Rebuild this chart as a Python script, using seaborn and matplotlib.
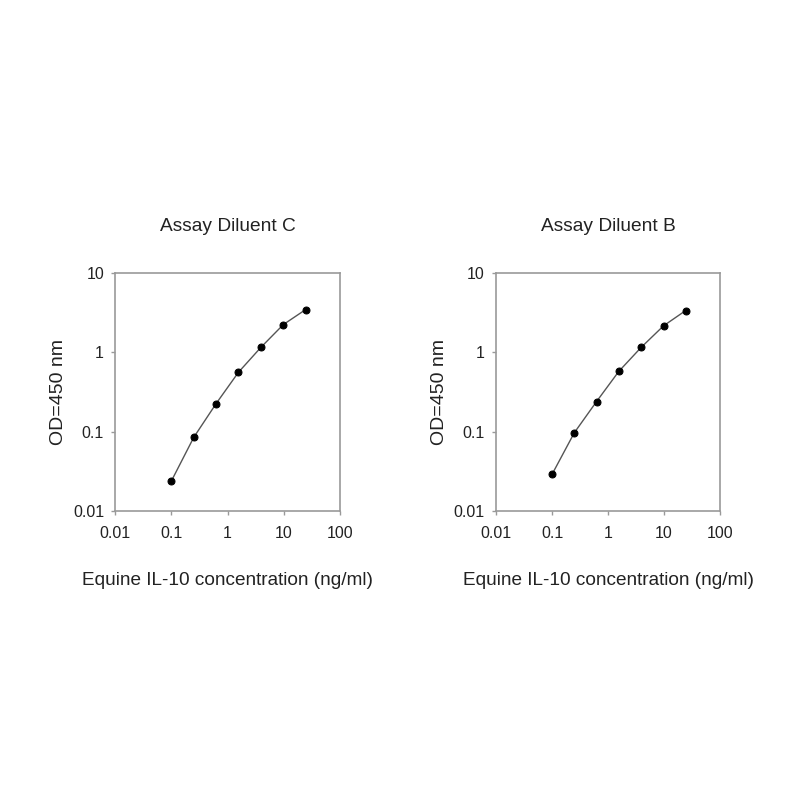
import matplotlib
matplotlib.use("Agg")
import matplotlib.pyplot as plt
import seaborn as sns
import pandas as pd
from matplotlib.ticker import FixedLocator, FixedFormatter, NullLocator

sns.set_theme(style="white")
plt.rcParams['font.family'] = ['Liberation Sans', 'DejaVu Sans']

conc = [0.1, 0.25, 0.625, 1.56, 3.9, 9.8, 24.4]
od_c = [0.024, 0.085, 0.226, 0.56, 1.15, 2.23, 3.44]
od_b = [0.029, 0.097, 0.24, 0.575, 1.15, 2.15, 3.35]
titles = ["Assay Diluent C", "Assay Diluent B"]
x_ticks = [0.01, 0.1, 1, 10, 100]
x_labels = ["0.01", "0.1", "1", "10", "100"]
y_ticks = [0.01, 0.1, 1, 10]
y_labels = ["0.01", "0.1", "1", "10"]
xlabel = "Equine IL-10 concentration (ng/ml)"
ylabel = "OD=450 nm"

fig = plt.figure(figsize=(8, 8), dpi=100)
positions = [[0.144, 0.361, 0.281, 0.298], [0.620, 0.361, 0.280, 0.298]]

for pos, title, od in zip(positions, titles, [od_c, od_b]):
    ax = fig.add_axes(pos)
    df = pd.DataFrame({"conc": conc, "od": od})
    sns.lineplot(data=df, x="conc", y="od", ax=ax, color="#555555", linewidth=1.0,
                 marker="o", markersize=5, markerfacecolor="black", markeredgecolor="black")
    ax.set_xscale("log")
    ax.set_yscale("log")
    ax.set_xlim(0.01, 100)
    ax.set_ylim(0.01, 10)
    ax.xaxis.set_major_locator(FixedLocator(x_ticks))
    ax.xaxis.set_major_formatter(FixedFormatter(x_labels))
    ax.yaxis.set_major_locator(FixedLocator(y_ticks))
    ax.yaxis.set_major_formatter(FixedFormatter(y_labels))
    ax.xaxis.set_minor_locator(NullLocator())
    ax.yaxis.set_minor_locator(NullLocator())
    for s in ax.spines.values():
        s.set_color("#999999")
        s.set_linewidth(1.2)
    ax.tick_params(axis="both", which="major", direction="out", length=3, width=1,
                   color="#999999", labelsize=11.5, labelcolor="#222222")
    ax.tick_params(axis="x", pad=8)
    ax.tick_params(axis="y", pad=5)
    ax.tick_params(left=True, bottom=True)
    ax.set_title(title, fontsize=13.8, color="#222222", pad=30)
    ax.set_xlabel(xlabel, fontsize=13.7, color="#222222", labelpad=22)
    ax.set_ylabel(ylabel, fontsize=14, color="#222222", labelpad=4)

fig.savefig("out.png", dpi=100, facecolor="white")
